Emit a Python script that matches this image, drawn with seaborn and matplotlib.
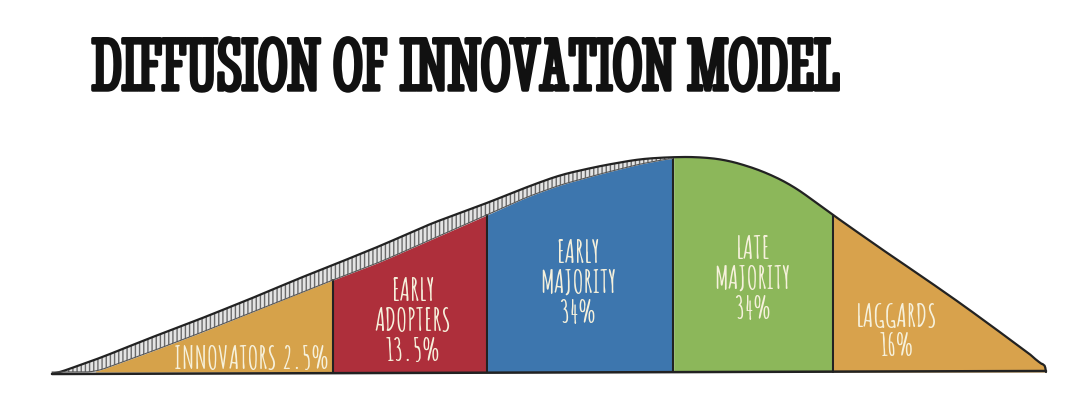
import numpy as np
import matplotlib
matplotlib.use('Agg')
import matplotlib.pyplot as plt
import matplotlib.patheffects as pe
import seaborn as sns

# adopter groups and their share
groups = ['INNOVATORS', 'EARLY\nADOPTERS', 'EARLY\nMAJORITY', 'LATE\nMAJORITY', 'LAGGARDS']
shares = ['2.5%', '13.5%', '34%', '34%', '16%']
bounds = [95, 333, 487, 673, 833, 1045]

# hand drawn curve (x position, height above baseline)
outline_x = [52, 100, 150, 200, 250, 300, 333, 380, 430, 487, 527, 560, 600, 640, 673,
             700, 727, 760, 790, 810, 833, 880, 927, 960, 993, 1020, 1035, 1045, 1046]
outline_h = [-3, 14, 34, 53, 73, 94, 107, 126, 148, 169, 185, 197, 206, 213, 215,
             215, 212, 202, 188, 174, 157, 124, 92, 69, 45, 25, 14, 6, 0]
fill_x = [95, 150, 200, 250, 300, 333, 380, 430, 487, 527, 560, 600, 640, 673]
fill_h = [0, 20, 39, 59, 79, 92, 110, 132, 157, 175, 187, 198, 208, 214]

colors = ['#d6a24a', '#ae2f3b', '#3d76ae', '#8cb75a', '#d8a24c']
text_color = '#f6f1dc'


def smooth(y, k=25):
    pad = np.pad(y, k, mode='edge')
    return np.convolve(pad, np.ones(2 * k + 1) / (2 * k + 1), mode='same')[k:-k]


sns.set_theme(style='white')
plt.rcParams['font.family'] = ['Amatic SC', 'DejaVu Sans']

fig = plt.figure(figsize=(10.8, 3.93), dpi=100)
ax = fig.add_axes([0, 0, 1, 1])
ax.set_xlim(0, 1080)
ax.set_ylim(-21, 372)
ax.axis('off')

xs = np.linspace(52, 1046, 1400)
top = smooth(np.interp(xs, outline_x, outline_h), 20)
top[-6:] = np.interp(xs[-6:], outline_x, outline_h)
inner = np.where(xs < 673, smooth(np.interp(xs, fill_x, fill_h, left=0), 15), top)
inner = np.clip(np.minimum(inner, top), 0, None)

# shaded band on the rising side
band = xs <= 673
ax.fill_between(xs[band], inner[band], top[band],
                facecolor='#e4e4e4', edgecolor='#6a6a6a', hatch='||||', lw=0)

# coloured segments
for i in range(len(groups)):
    m = (xs >= bounds[i]) & (xs <= bounds[i + 1])
    ax.fill_between(xs[m], 0, inner[m], color=colors[i], lw=0)

for b in bounds[1:-1]:
    hb = np.interp(b, xs, inner)
    ax.plot([b, b], [0, hb], color='#222222', lw=1.5)

sns.lineplot(x=xs, y=top, color='#222222', lw=1.6, ax=ax)
sns.lineplot(x=xs[band], y=inner[band], color='#555555', lw=0.8, ax=ax)
ax.plot([52, 1046], [-2, 1], color='#222222', lw=1.8)

# labels
label_pos = [(252, 15, 'oneline'), (413, 52, 'block'), (578, 90, 'block'),
             (753, 94, 'block'), (897, 42, 'block')]
for (x, y, kind), g, s in zip(label_pos, groups, shares):
    txt = g + ' ' + s if kind == 'oneline' else g + '\n' + s
    ax.text(x, y, txt, ha='center', va='center', color=text_color,
            fontsize=22, fontweight='bold', linespacing=1.2)

fig.text(92 / 1080, 1 - 90 / 393, 'DIFFUSION OF INNOVATION MODEL',
         ha='left', va='baseline', fontsize=55, color='#111111',
         family=['Stint Ultra Condensed', 'DejaVu Sans'],
         path_effects=[pe.withStroke(linewidth=2.5, foreground='#111111')])

fig.savefig('out.png', dpi=100, facecolor='white')
